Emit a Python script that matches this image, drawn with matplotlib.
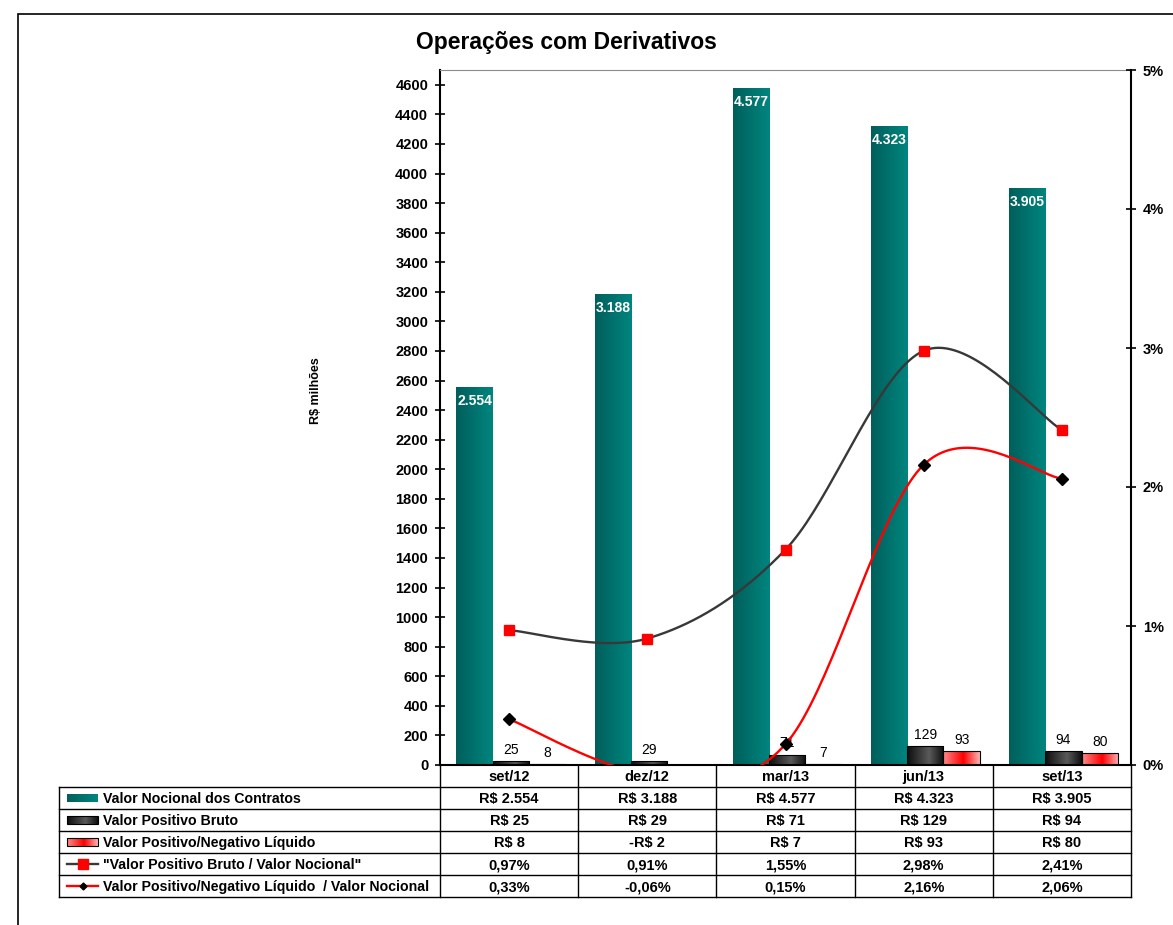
"""
Operações com Derivativos: bars for notional / gross / net values,
smoothed ratio lines on a secondary axis and an Excel-like data table.
"""
import numpy as np
import matplotlib
matplotlib.use("Agg")
import matplotlib.pyplot as plt
from matplotlib.colors import LinearSegmentedColormap
from matplotlib.patches import Rectangle

plt.rcParams["font.family"] = ["Liberation Sans", "DejaVu Sans"]

# ---- data -------------------------------------------------------------
categories = ["set/12", "dez/12", "mar/13", "jun/13", "set/13"]
nocional = [2554, 3188, 4577, 4323, 3905]
bruto = [25, 29, 71, 129, 94]
liquido = [8, -2, 7, 93, 80]
ratio_bruto = [0.97, 0.91, 1.55, 2.98, 2.41]      # %
ratio_liquido = [0.33, -0.06, 0.15, 2.16, 2.06]   # %

series_names = [
    "Valor Nocional dos Contratos",
    "Valor Positivo Bruto",
    "Valor Positivo/Negativo Líquido",
    '"Valor Positivo Bruto / Valor Nocional"',
    "Valor Positivo/Negativo Líquido  / Valor Nocional",
]

# ---- styles -----------------------------------------------------------
W, H = 1173, 925
teal_cmap = LinearSegmentedColormap.from_list("teal", ["#005f5b", "#00857f"])
black_cmap = LinearSegmentedColormap.from_list(
    "blk", [(0, "#0d0d0d"), (0.6, "#5a5a5a"), (1, "#0d0d0d")])
red_cmap = LinearSegmentedColormap.from_list(
    "red", [(0, "#ff8c8c"), (0.55, "#ff0000"), (1, "#ffb4b4")])
gray_line = "#383838"
FS = 10.5


def thousands(v):
    return f"{v:,}".replace(",", ".")


def money(v):
    s = "R$ " + thousands(abs(v))
    return "-" + s if v < 0 else s


def pct(v):
    return f"{v:.2f}%".replace(".", ",")


def excel_smooth(xs, ys, n=40):
    """Bezier smoothing similar to Excel's 'smoothed line'."""
    pts = np.column_stack([xs, ys]).astype(float)
    out = []
    t = np.linspace(0, 1, n)[:, None]
    for i in range(len(pts) - 1):
        p0 = pts[max(i - 1, 0)]
        p1 = pts[i]
        p2 = pts[i + 1]
        p3 = pts[min(i + 2, len(pts) - 1)]
        c1 = p1 + (p2 - p0) / 6
        c2 = p2 - (p3 - p1) / 6
        seg = ((1 - t) ** 3 * p1 + 3 * (1 - t) ** 2 * t * c1
               + 3 * (1 - t) * t ** 2 * c2 + t ** 3 * p2)
        out.append(seg if i == 0 else seg[1:])
    return np.vstack(out)


def gradient_fill(ax, bars, cmap, z=2):
    grad = np.linspace(0, 1, 256).reshape(1, -1)
    for b in bars:
        x0, y0 = b.get_x(), b.get_y()
        im = ax.imshow(grad, extent=[x0, x0 + b.get_width(), y0, y0 + b.get_height()],
                       aspect="auto", cmap=cmap, zorder=z, interpolation="bilinear")
        im.set_clip_path(b)


# ---- figure -----------------------------------------------------------
fig = plt.figure(figsize=(W / 100, H / 100), dpi=100)
fig.patches.append(Rectangle((18 / W, -0.05), 1.1, 1 - 14 / H + 0.05,
                             transform=fig.transFigure, fill=False,
                             edgecolor="black", linewidth=1.2))

L, R, B, T = 440, 1131, 765, 70
ax = fig.add_axes([L / W, 1 - B / H, (R - L) / W, (B - T) / H])

x = np.arange(len(categories))
bw = 0.262
shift = 0.012
b1 = ax.bar(x - bw + shift, nocional, bw, facecolor="none", edgecolor="none", zorder=3)
b2 = ax.bar(x + shift, bruto, bw, facecolor="none", edgecolor="black", linewidth=0.8, zorder=3)
b3 = ax.bar(x + bw + shift, liquido, bw, facecolor="none", edgecolor="black", linewidth=0.8,
            zorder=3)
gradient_fill(ax, b1, teal_cmap)
gradient_fill(ax, b2, black_cmap)
gradient_fill(ax, b3, red_cmap)

for xi, v in zip(x - bw + shift, nocional):
    ax.annotate(thousands(v), (xi, v), xytext=(0, -5), textcoords="offset points",
                ha="center", va="top", color="white", fontsize=10, fontweight="bold",
                zorder=5)
for xs_, vals in ((x + shift, bruto), (x + bw + shift, liquido)):
    for xi, v in zip(xs_, vals):
        if v > 0:
            ax.annotate(str(v), (xi, v), xytext=(0, 3), textcoords="offset points",
                        ha="center", va="bottom", fontsize=10, zorder=5)

ax.set_xlim(-0.5, len(categories) - 0.5)
ax.set_ylim(0, 4700)
ax.set_yticks(np.arange(0, 4601, 200))
ax.set_xticks([])
ax.tick_params(axis="y", direction="inout", length=7, width=1.2, pad=5,
               labelsize=FS)
for lab in ax.get_yticklabels():
    lab.set_fontweight("bold")
ax.spines["left"].set_linewidth(1.5)
ax.spines["bottom"].set_linewidth(1.5)
ax.spines["top"].set_color("#8c8c8c")
ax.spines["top"].set_linewidth(0.8)
ax.spines["right"].set_visible(False)

tw = ax.twinx()
tw.set_ylim(0, 5)
tw.set_yticks(range(0, 6))
tw.set_yticklabels([f"{i}%" for i in range(0, 6)], fontweight="bold", fontsize=FS)
tw.tick_params(axis="y", direction="inout", length=7, width=1.2, pad=5)
for s in ("left", "top", "bottom"):
    tw.spines[s].set_visible(False)
tw.spines["right"].set_linewidth(1.5)

c1 = excel_smooth(x, ratio_bruto)
c2 = excel_smooth(x, ratio_liquido)
tw.plot(c1[:, 0], c1[:, 1], color=gray_line, lw=1.7, zorder=4)
tw.plot(x, ratio_bruto, ls="none", marker="s", ms=6.5, mfc="#ff0000", mec="#ff0000", zorder=5)
tw.plot(c2[:, 0], c2[:, 1], color="#ff0000", lw=1.7, zorder=4)
tw.plot(x, ratio_liquido, ls="none", marker="D", ms=6, mfc="black", mec="black", zorder=5)

fig.text(566 / W, 1 - 42 / H, "Operações com Derivativos", ha="center", va="center",
         fontsize=16.5, fontweight="bold")
fig.text(316 / W, 1 - 391 / H, "R$ milhões", ha="center", va="center",
         rotation=90, fontsize=9, fontweight="bold")

# ---- data table -------------------------------------------------------
TL, TB = 59, 897
n = len(categories)
x_left = -0.5 - n * (L - TL) / (R - L)
tab = fig.add_axes([TL / W, 1 - TB / H, (R - TL) / W, (TB - B) / H])
tab.set_xlim(x_left, n - 0.5)
tab.set_ylim(6, 0)
tab.axis("off")

lk = dict(color="black", lw=1.0, clip_on=False)
col_edges = np.arange(n + 1) - 0.5
for ce in col_edges:
    tab.plot([ce, ce], [0, 6], **lk)
tab.plot([x_left, x_left], [1, 6], **lk)
for r in range(1, 7):
    tab.plot([x_left, n - 0.5], [r, r], **lk)

for i, c in enumerate(categories):
    tab.text(i, 0.55, c, ha="center", va="center", fontsize=FS, fontweight="bold")

rows = [
    [money(v) for v in nocional],
    [money(v) for v in bruto],
    [money(v) for v in liquido],
    [pct(v) for v in ratio_bruto],
    [pct(v) for v in ratio_liquido],
]
for r, vals in enumerate(rows, start=1):
    for i, s in enumerate(vals):
        tab.text(i, r + 0.55, s, ha="center", va="center", fontsize=FS, fontweight="bold")

unit = (n - 0.5 - x_left) / (R - TL)   # data units per pixel
kx0 = x_left + 8 * unit
kx1 = x_left + 39 * unit
tx = x_left + 44 * unit
grad = np.linspace(0, 1, 256).reshape(1, -1)
for r, cmap, edge in ((1, teal_cmap, None), (2, black_cmap, "black"), (3, red_cmap, "black")):
    tab.imshow(grad, extent=[kx0, kx1, r + 0.7, r + 0.34], aspect="auto", cmap=cmap,
               interpolation="bilinear")
    if edge:
        tab.add_patch(Rectangle((kx0, r + 0.34), kx1 - kx0, 0.36, fill=False,
                                edgecolor=edge, lw=0.8))
km = (kx0 + kx1) / 2
tab.plot([kx0, kx1], [4.52, 4.52], color=gray_line, lw=1.7)
tab.plot([km], [4.52], marker="s", ms=6.5, color="#ff0000")
tab.plot([kx0, kx1], [5.52, 5.52], color="#ff0000", lw=1.7)
tab.plot([km], [5.52], marker="D", ms=3.5, color="black")
tab.set_xlim(x_left, n - 0.5)
tab.set_ylim(6, 0)

for r, name in enumerate(series_names, start=1):
    tab.text(tx, r + 0.55, name, ha="left", va="center", fontsize=10.2, fontweight="bold")

fig.savefig("out.png", dpi=100)
